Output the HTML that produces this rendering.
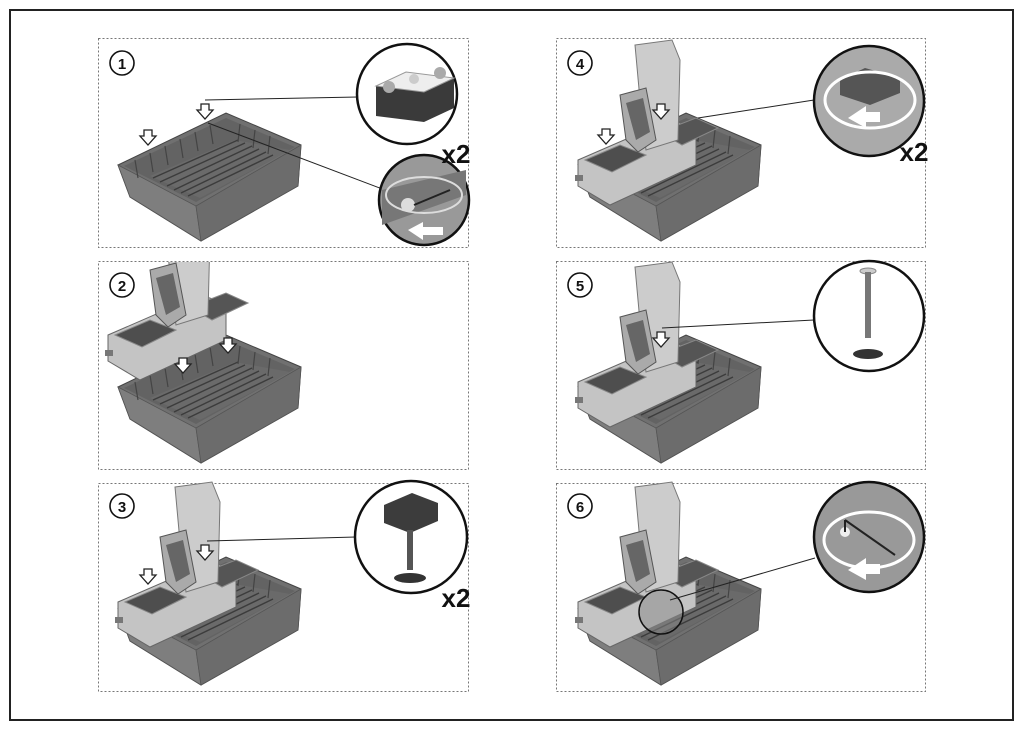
<!DOCTYPE html>
<html><head><meta charset="utf-8"><style>
html,body{margin:0;padding:0;background:#fff;}
svg{display:block;font-family:"Liberation Sans",sans-serif;}
</style></head><body>
<svg width="1024" height="730" viewBox="0 0 1024 730" xmlns="http://www.w3.org/2000/svg">
<defs>
<clipPath id="p2clip"><rect x="99" y="262" width="369" height="207"/></clipPath>
<g id="tray">
  <polygon points="118,165 226,113 301,145 298,186 201,241 130,197" fill="#707070" stroke="#444" stroke-width="1"/>
  <polygon points="118,165 196,206 201,241 130,197" fill="#7e7e7e" stroke="#555" stroke-width="0.8"/>
  <polygon points="196,206 301,145 298,186 201,241" fill="#6c6c6c" stroke="#555" stroke-width="0.8"/>
  <polygon points="124,166 226,118 295,147 196,202" fill="#636363"/>
  <polygon points="150,176 235,140 290,150 200,198" fill="#6a6a6a"/>
  <g stroke="#3c3c3c" stroke-width="1.4">
    <line x1="160" y1="182" x2="245" y2="143"/><line x1="167" y1="186" x2="252" y2="146"/>
    <line x1="174" y1="190" x2="259" y2="149"/><line x1="181" y1="193" x2="266" y2="152"/>
    <line x1="188" y1="196" x2="273" y2="155"/><line x1="153" y1="178" x2="238" y2="140"/>
  </g>
  <g stroke="#444" stroke-width="1.2">
    <line x1="135" y1="160" x2="138" y2="178"/><line x1="150" y1="153" x2="153" y2="172"/>
    <line x1="165" y1="146" x2="168" y2="165"/><line x1="180" y1="139" x2="183" y2="158"/>
    <line x1="195" y1="132" x2="198" y2="151"/><line x1="210" y1="125" x2="213" y2="144"/>
    <line x1="240" y1="124" x2="238" y2="142"/><line x1="255" y1="130" x2="253" y2="148"/>
    <line x1="270" y1="136" x2="268" y2="154"/>
  </g>
</g>
<g id="cooler">
  <polygon points="118,160 210,120 236,128 236,165 150,205 118,186" fill="#c4c4c4" stroke="#666" stroke-width="1"/>
  <polygon points="125,160 160,145 186,155 152,172" fill="#4e4e4e" stroke="#888"/>
  <polygon points="200,132 236,118 258,128 222,145" fill="#555" stroke="#888"/>
  <polygon points="175,45 212,40 220,60 218,140 186,150 180,100" fill="#cccccc" stroke="#777"/>
  <polygon points="160,95 186,88 196,140 178,152 166,140" fill="#aaa" stroke="#555"/>
  <polygon points="166,103 183,98 190,132 176,140" fill="#666"/>
  <rect x="115" y="175" width="8" height="6" fill="#777"/>
</g>
<g id="arrow"><path d="M-4,-8 v6 h-4 l8,9 l8,-9 h-4 v-6 z" fill="#fff" stroke="#222" stroke-width="1.3"/></g>
</defs>
<rect x="10" y="10" width="1003" height="710" fill="#fff" stroke="#222" stroke-width="2"/>
<g fill="none" stroke="#777" stroke-width="1" stroke-dasharray="2,2">
<rect x="98.5" y="38.5" width="370" height="209"/>
<rect x="98.5" y="261.5" width="370" height="208"/>
<rect x="98.5" y="483.5" width="370" height="208"/>
<rect x="556.5" y="38.5" width="369" height="209"/>
<rect x="556.5" y="261.5" width="369" height="208"/>
<rect x="556.5" y="483.5" width="369" height="208"/>
</g>
<g fill="#fff" stroke="#111" stroke-width="1.6">
<circle cx="122" cy="63" r="12"/><circle cx="122" cy="285" r="12"/><circle cx="122" cy="506" r="12"/>
<circle cx="580" cy="63" r="12"/><circle cx="580" cy="285" r="12"/><circle cx="580" cy="506" r="12"/>
</g>
<g font-size="15" font-weight="bold" text-anchor="middle" fill="#111">
<text x="122" y="69">1</text><text x="122" y="291">2</text><text x="122" y="512">3</text>
<text x="580" y="69">4</text><text x="580" y="291">5</text><text x="580" y="512">6</text>
</g>
<!-- panel 1 -->
<use href="#tray"/>
<use href="#arrow" x="148" y="138"/><use href="#arrow" x="205" y="112"/>
<line x1="205" y1="100" x2="358" y2="97" stroke="#222"/>
<line x1="208" y1="123" x2="385" y2="190" stroke="#222"/>
<circle cx="407" cy="94" r="50" fill="#fff" stroke="#111" stroke-width="2.5"/>
<path d="M376,86 l30,-14 l48,6 v30 l-30,14 l-48,-6z" fill="#3a3a3a"/>
<path d="M376,86 l30,-14 l48,6 l-30,14z" fill="#eee" stroke="#999"/>
<circle cx="389" cy="87" r="6" fill="#aaa"/><circle cx="440" cy="73" r="6" fill="#aaa"/><circle cx="414" cy="79" r="5" fill="#ccc"/>
<circle cx="424" cy="200" r="45" fill="#999" stroke="#111" stroke-width="2.5"/>
<path d="M382,190 l84,-20 v25 l-84,30z" fill="#777"/>
<ellipse cx="424" cy="195" rx="38" ry="18" fill="none" stroke="#ddd" stroke-width="2"/>
<circle cx="408" cy="205" r="7" fill="#ddd"/><line x1="414" y1="205" x2="450" y2="190" stroke="#222" stroke-width="2"/>
<path d="M408,230 l15,-8 v5 h20 v8 h-20 v5z" fill="#fff"/>
<text x="456" y="163" font-size="26" font-weight="bold" text-anchor="middle" fill="#111">x2</text>
<!-- panel 2 -->
<use href="#tray" y="222"/>
<g clip-path="url(#p2clip)"><g transform="translate(-10,175)"><use href="#cooler"/></g></g>
<use href="#arrow" x="183" y="366"/><use href="#arrow" x="228" y="346"/>
<!-- panel 3 -->
<use href="#tray" y="444"/>
<g transform="translate(0,442)"><use href="#cooler"/></g>
<use href="#arrow" x="148" y="577"/><use href="#arrow" x="205" y="553"/>
<line x1="207" y1="541" x2="356" y2="537" stroke="#222"/>
<circle cx="411" cy="537" r="56" fill="#fff" stroke="#111" stroke-width="2.5"/>
<path d="M384,505 l28,-12 l26,10 v18 l-28,12 l-26,-10z" fill="#3c3c3c"/>
<rect x="407" y="530" width="6" height="40" fill="#555"/>
<ellipse cx="410" cy="578" rx="16" ry="5" fill="#333"/>
<text x="456" y="607" font-size="26" font-weight="bold" text-anchor="middle" fill="#111">x2</text>
<!-- panel 4 -->
<use href="#tray" x="460"/>
<g transform="translate(460,0)"><use href="#cooler"/></g>
<use href="#arrow" x="606" y="137"/><use href="#arrow" x="661" y="112"/>
<line x1="698" y1="118" x2="814" y2="100" stroke="#222"/>
<circle cx="869" cy="101" r="55" fill="#aaa" stroke="#111" stroke-width="2.5"/>
<path d="M840,80 l25,-12 l35,10 v15 l-30,12 l-30,-10z" fill="#555"/>
<ellipse cx="870" cy="100" rx="45" ry="28" fill="none" stroke="#fff" stroke-width="3"/>
<path d="M848,118 l18,-12 v6 h14 v10 h-14 v6z" fill="#fff"/>
<text x="914" y="161" font-size="26" font-weight="bold" text-anchor="middle" fill="#111">x2</text>
<!-- panel 5 -->
<use href="#tray" x="460" y="222"/>
<g transform="translate(460,222)"><use href="#cooler"/></g>
<use href="#arrow" x="661" y="340"/>
<line x1="662" y1="328" x2="814" y2="320" stroke="#222"/>
<circle cx="869" cy="316" r="55" fill="#fff" stroke="#111" stroke-width="2.5"/>
<ellipse cx="868" cy="271" rx="8" ry="3" fill="#ccc" stroke="#888"/>
<rect x="865" y="272" width="6" height="66" fill="#777"/>
<ellipse cx="868" cy="354" rx="15" ry="5" fill="#333"/>
<!-- panel 6 -->
<use href="#tray" x="460" y="444"/>
<g transform="translate(460,442)"><use href="#cooler"/></g>
<circle cx="661" cy="612" r="22" fill="#888" fill-opacity="0.5" stroke="#111" stroke-width="1.5"/>
<line x1="670" y1="600" x2="815" y2="558" stroke="#222"/>
<circle cx="869" cy="537" r="55" fill="#999" stroke="#111" stroke-width="2.5"/>
<ellipse cx="869" cy="540" rx="45" ry="28" fill="none" stroke="#fff" stroke-width="3"/>
<circle cx="845" cy="532" r="5" fill="#eee"/><line x1="845" y1="520" x2="845" y2="532" stroke="#222" stroke-width="2"/><line x1="845" y1="520" x2="895" y2="555" stroke="#222" stroke-width="2"/>
<path d="M848,570 l18,-12 v6 h14 v10 h-14 v6z" fill="#fff"/>
</svg>
</body></html>
